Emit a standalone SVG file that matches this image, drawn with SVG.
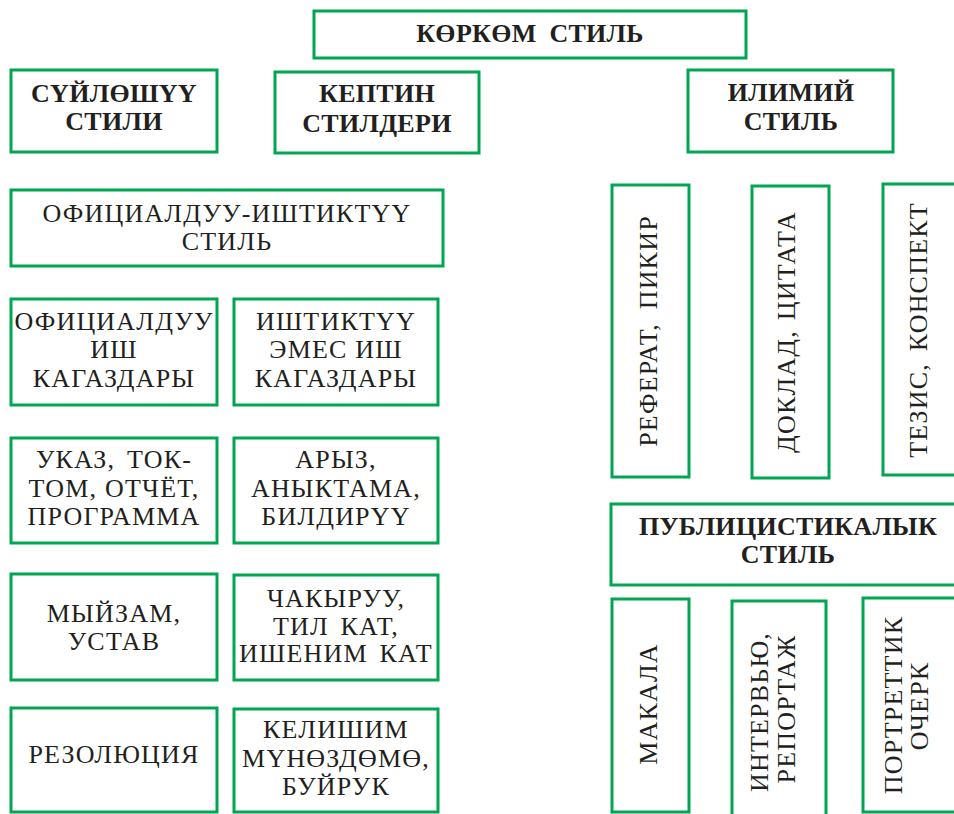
<svg xmlns="http://www.w3.org/2000/svg" width="954" height="814" viewBox="0 0 954 814">
<style>
.b{fill:#fff;stroke:#00a651;stroke-width:3}
text{font-family:"Liberation Serif","Times New Roman",serif;font-size:26px;fill:#231f20;text-anchor:middle}
.r{letter-spacing:1.2px}
.h{font-weight:bold;letter-spacing:0.3px}
</style>
<rect width="954" height="814" fill="#fff"/>
<g id="connectors"></g>
<g id="n-korkom"><rect class="b" x="314" y="11" width="432" height="47"/><text class="h" x="530" y="42" word-spacing="6">КӨРКӨМ СТИЛЬ</text></g>
<g id="n-suyloshuu"><rect class="b" x="11" y="70" width="206" height="82"/><text class="h" x="114" y="102">СҮЙЛӨШҮҮ</text><text class="h" x="114" y="130">СТИЛИ</text></g>
<g id="n-keptin"><rect class="b" x="275" y="72" width="204" height="81"/><text class="h" x="377" y="102">КЕПТИН</text><text class="h" x="377" y="132">СТИЛДЕРИ</text></g>
<g id="n-ilimiy"><rect class="b" x="688" y="70" width="205" height="82"/><text class="h" x="791" y="101">ИЛИМИЙ</text><text class="h" x="791" y="130">СТИЛЬ</text></g>
<g id="n-ofic-ish"><rect class="b" x="11" y="190" width="432" height="76"/><text class="r" x="227" y="222">ОФИЦИАЛДУУ-ИШТИКТҮҮ</text><text class="r" x="227" y="250">СТИЛЬ</text></g>
<g id="n-ofic-kag"><rect class="b" x="11" y="299" width="206" height="106"/><text class="r" x="114" y="330">ОФИЦИАЛДУУ</text><text class="r" x="114" y="358">ИШ</text><text class="r" x="114" y="387">КАГАЗДАРЫ</text></g>
<g id="n-ishtiktuu-emes"><rect class="b" x="234" y="299" width="204" height="106"/><text class="r" x="336" y="330">ИШТИКТҮҮ</text><text class="r" x="336" y="358">ЭМЕС ИШ</text><text class="r" x="336" y="387">КАГАЗДАРЫ</text></g>
<g id="n-ukaz"><rect class="b" x="11" y="438" width="206" height="105"/><text class="r" x="114" y="468" word-spacing="4">УКАЗ, ТОК-</text><text class="r" x="114" y="497">ТОМ, ОТЧЁТ,</text><text class="r" x="114" y="525">ПРОГРАММА</text></g>
<g id="n-aryz"><rect class="b" x="234" y="438" width="204" height="105"/><text class="r" x="336" y="468">АРЫЗ,</text><text class="r" x="336" y="497">АНЫКТАМА,</text><text class="r" x="336" y="525">БИЛДИРҮҮ</text></g>
<g id="n-myizam"><rect class="b" x="11" y="574" width="206" height="106"/><text class="r" x="114" y="622">МЫЙЗАМ,</text><text class="r" x="114" y="650">УСТАВ</text></g>
<g id="n-chakyruu"><rect class="b" x="234" y="575" width="204" height="105"/><text class="r" x="336" y="607">ЧАКЫРУУ,</text><text class="r" x="336" y="635" word-spacing="4">ТИЛ КАТ,</text><text class="r" x="336" y="662" word-spacing="4">ИШЕНИМ КАТ</text></g>
<g id="n-rezolyuciya"><rect class="b" x="11" y="708" width="206" height="104"/><text class="r" x="114" y="763">РЕЗОЛЮЦИЯ</text></g>
<g id="n-kelishim"><rect class="b" x="234" y="709" width="204" height="103"/><text class="r" x="336" y="738">КЕЛИШИМ</text><text class="r" x="336" y="767">МҮНӨЗДӨМӨ,</text><text class="r" x="336" y="795">БУЙРУК</text></g>
<g id="n-referat"><rect class="b" x="612" y="185" width="77" height="292"/><text class="r" x="657" y="331" transform="rotate(-90 657 331)" word-spacing="6">РЕФЕРАТ, ПИКИР</text></g>
<g id="n-doklad"><rect class="b" x="752" y="186" width="77" height="292"/><text class="r" x="795" y="332" transform="rotate(-90 795 332)" word-spacing="2">ДОКЛАД, ЦИТАТА</text></g>
<g id="n-tezis"><rect class="b" x="883" y="184" width="80" height="291"/><text class="r" x="927" y="330" transform="rotate(-90 927 330)" word-spacing="4">ТЕЗИС, КОНСПЕКТ</text></g>
<g id="n-publicistikalyk"><rect class="b" x="611" y="504" width="360" height="81"/><text class="h" x="788" y="535">ПУБЛИЦИСТИКАЛЫК</text><text class="h" x="788" y="563">СТИЛЬ</text></g>
<g id="n-makala"><rect class="b" x="612" y="599" width="77" height="213"/><text class="r" x="657" y="704" transform="rotate(-90 657 704)">МАКАЛА</text></g>
<g id="n-intervyu"><rect class="b" x="732" y="601" width="94" height="230"/><text class="r" x="768" y="712" transform="rotate(-90 768 712)">ИНТЕРВЬЮ,</text><text class="r" x="795" y="709" transform="rotate(-90 795 709)">РЕПОРТАЖ</text></g>
<g id="n-portrettik"><rect class="b" x="863" y="598" width="110" height="214"/><text class="r" x="902" y="705" transform="rotate(-90 902 705)">ПОРТРЕТТИК</text><text class="r" x="928" y="706" transform="rotate(-90 928 706)">ОЧЕРК</text></g>
</svg>
